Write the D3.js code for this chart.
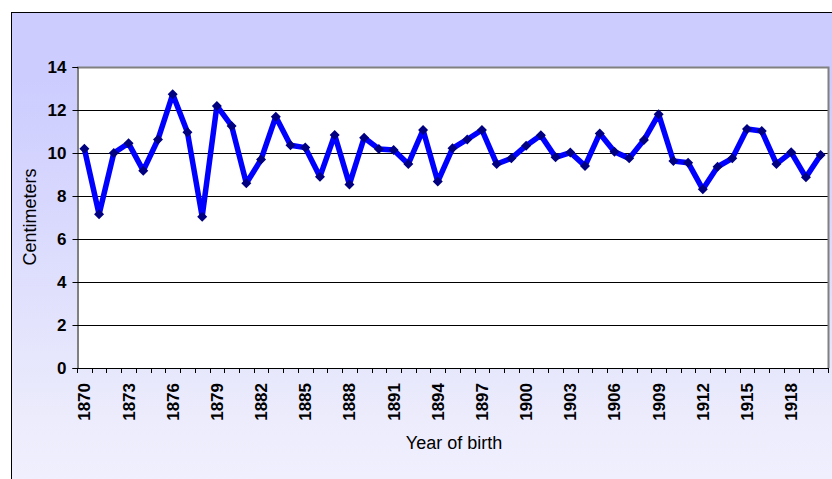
<!DOCTYPE html>
<html><head><meta charset="utf-8">
<script src="https://cdn.jsdelivr.net/npm/d3@7"></script>
<style>body{margin:0;background:#fff}svg{display:block}</style>
</head><body>
<svg id="c" width="832" height="479"></svg>
<script>
const years = d3.range(1870, 1921);
const values = [10.2,7.15,10.0,10.45,9.18,10.63,12.73,10.96,7.04,12.19,
  11.26,8.59,9.7,11.69,10.36,10.25,8.9,10.84,8.54,10.71,
  10.19,10.14,9.49,11.07,8.67,10.22,10.63,11.07,9.49,9.75,
  10.34,10.82,9.8,10.02,9.4,10.91,10.06,9.75,10.6,11.8,
  9.63,9.55,8.31,9.36,9.75,11.12,11.02,9.49,10.03,8.87,9.91];
const yTicks = [0,2,4,6,8,10,12,14];
const xTickLabels = years.filter((y,i)=> i%3===0 && y<=1918);
const xTitle = "Year of birth";
const yTitle = "Centimeters";

const FONT = "Liberation Sans, Arial, sans-serif";
const svg = d3.select("#c");
const defs = svg.append("defs");
const g0 = defs.append("linearGradient").attr("id","bg").attr("x1",0).attr("y1",0).attr("x2",0).attr("y2",1);
g0.append("stop").attr("offset","0%").attr("stop-color","#ccccff");
g0.append("stop").attr("offset","14%").attr("stop-color","#ccccff");
g0.append("stop").attr("offset","85%").attr("stop-color","#ececfc");
g0.append("stop").attr("offset","100%").attr("stop-color","#f0f0ff");

svg.append("rect").attr("x",11.5).attr("y",12.5).attr("width",830).attr("height",480)
  .attr("fill","url(#bg)").attr("stroke","#000").attr("stroke-width",1);

const L=77, T=67, R=828, B=368;
const x = d3.scaleBand().domain(years).range([L,R]).padding(0);
const y = d3.scaleLinear().domain([0,14]).range([B,T]);

svg.append("rect").attr("x",L).attr("y",T).attr("width",R-L).attr("height",B-T).attr("fill","#fff");

// gridlines
svg.append("g").selectAll("line").data(yTicks.filter(v=>v>0 && v<14)).join("line")
  .attr("x1",L).attr("x2",R).attr("y1",d=>Math.round(y(d))+0.5).attr("y2",d=>Math.round(y(d))+0.5)
  .attr("stroke","#000").attr("stroke-width",1);

// plot border top/right gray
svg.append("path").attr("d",`M${L},${T+0.5}H${R+0.5}V${B}`).attr("fill","none")
  .attr("stroke","#808080").attr("stroke-width",2);

// y axis
const yAxis = d3.axisLeft(y).tickValues(yTicks).tickSize(5).tickPadding(6).tickFormat(d3.format("d"));
const ga = svg.append("g").attr("transform",`translate(${L+0.5},0)`).call(yAxis);
ga.select(".domain").attr("stroke","#000");
ga.selectAll(".tick line").attr("stroke","#000");
ga.selectAll(".tick").attr("transform",d=>`translate(0,${Math.round(y(d))+0.5})`);
ga.selectAll("text").attr("font-family",FONT).attr("font-size",17)
  .attr("font-weight","bold").attr("fill","#000").attr("dy","0.35em");

// x axis: tick marks at category boundaries
const gx = svg.append("g");
gx.append("line").attr("x1",L).attr("x2",R+1).attr("y1",B+0.5).attr("y2",B+0.5).attr("stroke","#000");
const bounds = years.map(d=>x(d)).concat([x(years[years.length-1])+x.bandwidth()]);
gx.selectAll("line.tk").data(bounds).join("line").attr("class","tk")
  .attr("x1",d=>Math.round(d)+0.5).attr("x2",d=>Math.round(d)+0.5).attr("y1",B).attr("y2",B+5).attr("stroke","#000");
gx.selectAll("text").data(xTickLabels).join("text")
  .attr("transform",d=>`translate(${x(d)+x.bandwidth()/2+6},${B+15}) rotate(-90)`)
  .attr("text-anchor","end")
  .attr("font-family",FONT).attr("font-size",17).attr("font-weight","bold")
  .attr("fill","#000").text(d=>d);

// titles
svg.append("text").attr("x",454).attr("y",449).attr("text-anchor","middle")
  .attr("font-family",FONT).attr("font-size",18).text(xTitle);
svg.append("text").attr("transform","translate(36,217) rotate(-90)").attr("text-anchor","middle")
  .attr("font-family",FONT).attr("font-size",18).text(yTitle);

// line
const cx = d=>x(d)+x.bandwidth()/2;
const line = d3.line().x((d,i)=>cx(years[i])).y(d=>y(d));
svg.append("path").datum(values).attr("d",line).attr("fill","none")
  .attr("stroke","#0000ff").attr("stroke-width",5.5).attr("stroke-linejoin","round");

// markers
svg.append("g").selectAll("path").data(values).join("path")
  .attr("transform",(d,i)=>`translate(${cx(years[i])},${y(d)}) rotate(45)`)
  .attr("d",d3.symbol().type(d3.symbolSquare).size(50)).attr("fill","#000080");
</script>
</body></html>
